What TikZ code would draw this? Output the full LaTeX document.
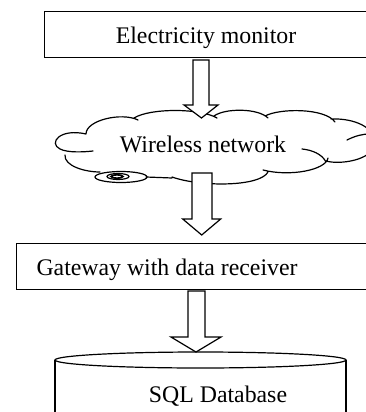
\documentclass[tikz,border=0pt]{standalone}
\usepackage{fontspec}
\setmainfont{Liberation Serif}
\begin{document}
\begin{tikzpicture}[x=1pt,y=-1pt, line width=1.2pt,
  lbl/.style={anchor=base, inner sep=0pt, font=\fontsize{23.8}{28}\selectfont},
  boxshape/.style={draw, anchor=north west, inner sep=0pt},
  barrow/.style={draw, fill=white, line join=miter},
  cloudline/.style={draw, line cap=round}]
\useasboundingbox (0,0) rectangle (366,412);
\clip (0,0) rectangle (366,412);

% boxes
\node[boxshape, minimum width=340pt, minimum height=46.3pt] (mon) at (44,10.7) {};
\node[lbl] (montxt) at (206,44) {Electricity monitor};

\node[boxshape, minimum width=370pt, minimum height=46.3pt] (gw) at (15.7,242.7) {};
\node[lbl] (gwtxt) at (167,275.5) {Gateway with data receiver};

% cloud
\path[cloudline]
  (86,134) .. controls (86,120) and (122,112) .. (138,120)
  (134,118) .. controls (150,108) and (200,108) .. (217,118)
  (214,116) .. controls (225,108) and (258,108) .. (268,118)
  (265,116) .. controls (280,108) and (325,108) .. (335,122)
  (331,119) .. controls (355,118) and (374,128) .. (374,140)
  (347,140) .. controls (355,136) and (362,134) .. (370,134)
  (374,145) .. controls (372,160) and (340,165) .. (326,161)
  (326,162) .. controls (322,154) and (312,150) .. (302,149)
  (328,158) .. controls (326,170) and (290,177) .. (263,170)
  (268,172) .. controls (260,187) and (200,187) .. (172,177)
  (172,178) -- (146,177)
  (86,134) .. controls (60,128) and (48,143) .. (60,149) .. controls (68,153) and (84,152) .. (93,151)
  (65,155) .. controls (64,166) and (85,172) .. (100,172);
\draw (121,177) ellipse [x radius=26, y radius=5.5];
\draw (118,176.5) ellipse [x radius=11, y radius=3];
\draw[line width=1.6pt] (117,176.5) ellipse [x radius=6, y radius=1.6];
\node[lbl] (wn) at (203,152) {Wireless network};

% database cylinder
\draw (55,420) -- (55,360) (346,360) -- (346,420);
\draw (200.5,360) ellipse [x radius=145.5, y radius=8];
\node[lbl] (db) at (218,402) {SQL Database};

% block arrows
\draw[barrow] (193,60) -- (193,105) -- (184,105) -- (201.5,118) -- (218,105) -- (209,105) -- (209,60) -- cycle;
\draw[barrow] (192,173) -- (192,219) -- (182.7,219) -- (201.7,235) -- (220.7,219) -- (212,219) -- (212,173) -- cycle;
\draw[barrow] (188,291) -- (188,337) -- (171,337) -- (196,352) -- (221,337) -- (205,337) -- (205,291) -- cycle;
\end{tikzpicture}
\end{document}
